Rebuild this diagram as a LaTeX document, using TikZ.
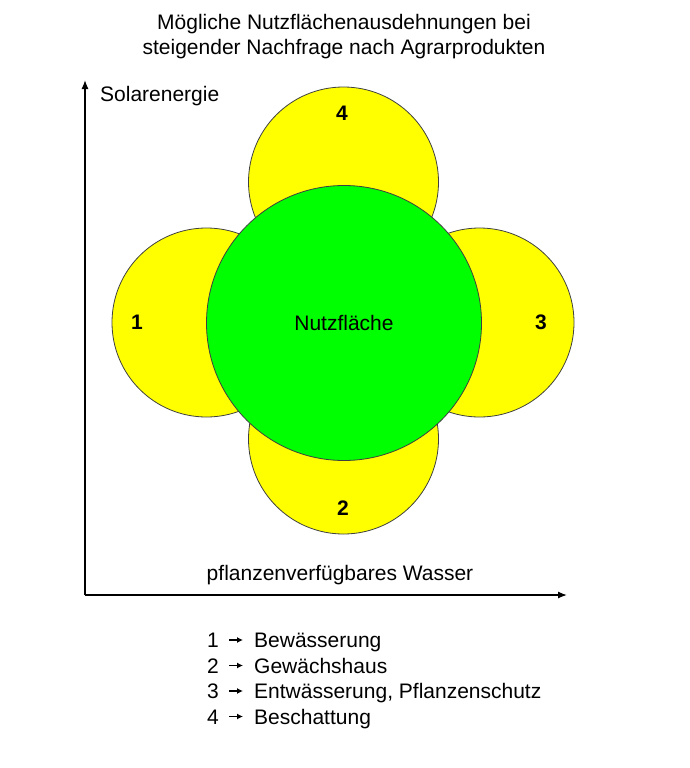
\documentclass[tikz,border=0pt]{standalone}
\usepackage{fontspec}
\setmainfont{Liberation Sans}
\usetikzlibrary{positioning, arrows.meta, calc}
\definecolor{sunyellow}{RGB}{255,255,0}
\definecolor{fieldgreen}{RGB}{0,255,0}
\tikzset{
  area/.style={circle, draw=black!75, line width=0.8pt, inner sep=0pt},
  num/.style={font={\fontsize{21}{25}\selectfont\bfseries}, inner sep=0pt},
  txt/.style={font={\fontsize{21}{25}\selectfont}, inner sep=0pt},
  keyline/.style={txt, text height=15pt, text depth=0pt},
  axis/.style={line width=1.3pt, -{Latex[length=9pt,width=7pt]}},
  pointer/.style={line width=1.3pt, -{Latex[length=6pt,width=6pt]}}
}

\begin{document}
\begin{tikzpicture}[x=1pt, y=-1pt]

\useasboundingbox (0,0) rectangle (689,768);

%% title
\node[txt, align=center] (title) at (344,37) {M\"ogliche Nutzfl\"achenausdehnungen bei\\steigender Nachfrage nach Agrarprodukten};

%% axes
\coordinate (origin) at (85,595);
\coordinate (ytip) at (85,80);
\coordinate (xtip) at (567,595);
\draw[axis] (origin) -- (ytip);
\draw[axis] (origin) -- (xtip);
\node[txt, anchor=west] (sun) at (100,96) {Solarenergie};
\node[txt] (water) at (340,575) {pflanzenverf\"ugbares Wasser};

%% yellow areas
\node[area, fill=sunyellow, minimum size=190pt] (a4) at (343.5,182) {};
\node[area, fill=sunyellow, minimum size=190pt] (a2) at (343.5,439) {};
\node[area, fill=sunyellow, minimum size=189pt] (a1) at (206.5,322.5) {};
\node[area, fill=sunyellow, minimum size=189pt] (a3) at (479.5,322.5) {};

%% green area
\node[area, fill=fieldgreen, minimum size=275pt] (field) at (344,323) {};
\node[txt] (fieldlabel) at (field.center) {Nutzfl\"ache};

\node[num] (l1) at (137,322) {1};
\node[num] (l2) at (343,508) {2};
\node[num] (l3) at (541,322) {3};
\node[num] (l4) at (342,113) {4};

%% legend
\foreach \n/\t [count=\i from 0] in {1/Bew\"asserung, 2/Gew\"achshaus, 3/{Entw\"asserung, Pflanzenschutz}, 4/Beschattung}{
  \node[keyline] (k\n) at (213,640+25.5*\i) {\n};
  \node[keyline, anchor=west] (v\n) at (254,640+25.5*\i) {\t};
  \draw[pointer, shorten <=10pt, shorten >=11pt] (k\n.east) -- (v\n.west);
}

\end{tikzpicture}
\end{document}
